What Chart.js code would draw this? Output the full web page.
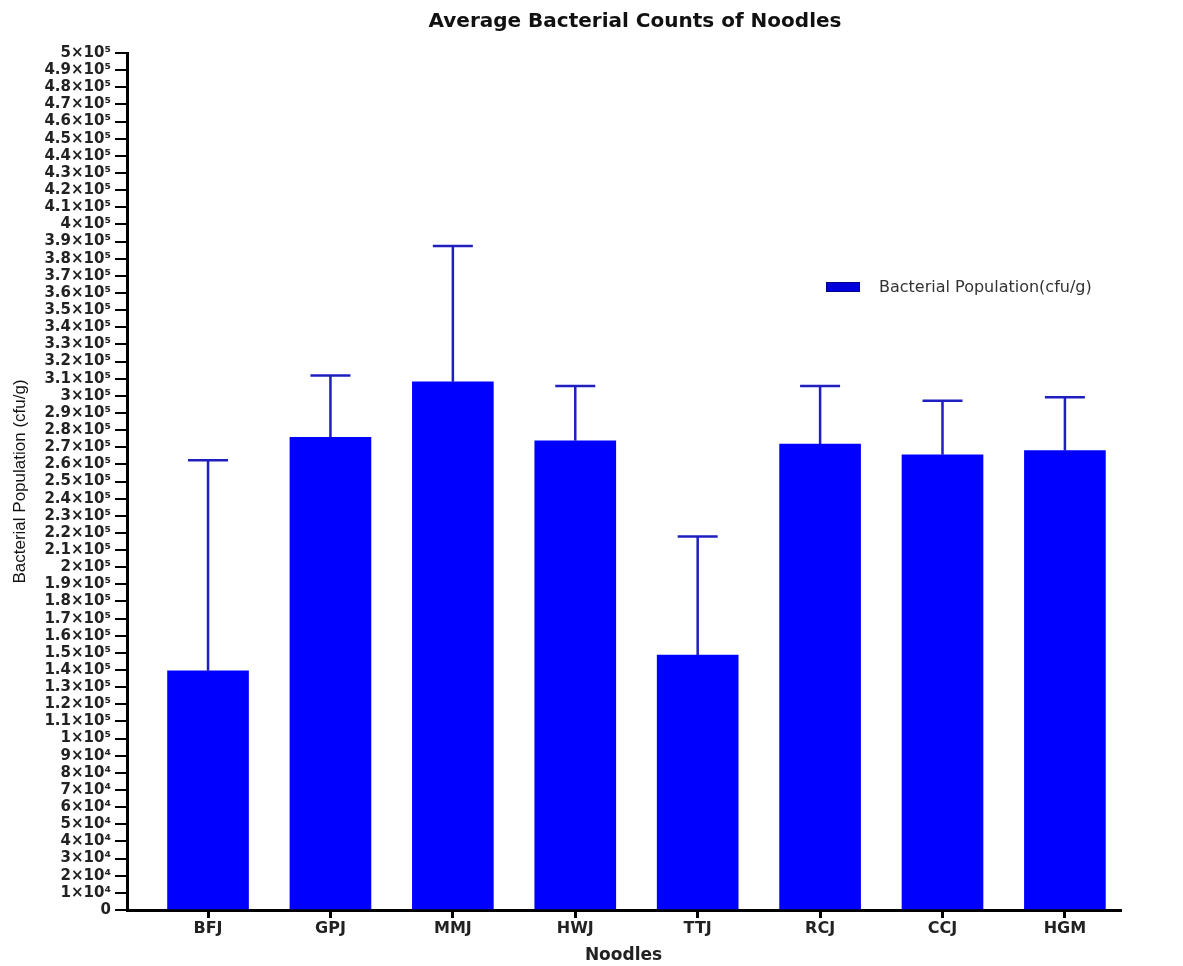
<!DOCTYPE html>
<html>
<head>
<meta charset="utf-8">
<script src="https://cdn.jsdelivr.net/npm/chart.js@4.4.0/dist/chart.umd.min.js"></script>
<style>
  html, body { margin: 0; padding: 0; background: #fff; }
  #wrap { width: 1183px; height: 966px; position: relative; }
</style>
</head>
<body>
<div id="wrap"><canvas id="c"></canvas></div>
<script>
// ---- data ----
const categories = ['BFJ', 'GPJ', 'MMJ', 'HWJ', 'TTJ', 'RCJ', 'CCJ', 'HGM'];
const meanCounts = [139600, 275800, 308200, 273800, 148800, 271900, 265600, 268000];
const errorSD   = [122800, 36100, 79200, 31900, 69100, 33800, 31500, 31100];
const seriesLabel = 'Bacterial Population(cfu/g)';
const chartTitle = 'Average Bacterial Counts of Noodles';
const xTitle = 'Noodles';
const yTitle = 'Bacterial Population (cfu/g)';
const yMin = 0, yMax = 500000, yStep = 10000;

function formatYTick(v) {
  if (v === 0) return '0';
  if (v < 100000) return Math.round(v / 10000) + '×10⁴';
  return (Math.round(v / 10000) / 10) + '×10⁵';
}

const errorBarPlugin = {
  id: 'errorBars',
  afterDatasetsDraw(chart) {
    const ctx = chart.ctx;
    const xs = chart.scales.x, ys = chart.scales.y;
    ctx.save();
    ctx.strokeStyle = '#1f1fbf';
    ctx.lineWidth = 2.5;
    meanCounts.forEach((m, i) => {
      const x = xs.getPixelForValue(i);
      const y0 = ys.getPixelForValue(m);
      const y1 = ys.getPixelForValue(m + errorSD[i]);
      ctx.beginPath();
      ctx.moveTo(x, y0);
      ctx.lineTo(x, y1);
      ctx.moveTo(x - 20, y1);
      ctx.lineTo(x + 20, y1);
      ctx.stroke();
    });
    ctx.restore();
  }
};

const decorPlugin = {
  id: 'decor',
  afterDraw(chart) {
    const ctx = chart.ctx;
    ctx.save();
    // title
    ctx.font = 'bold 20px "DejaVu Sans"';
    ctx.fillStyle = '#111';
    ctx.textAlign = 'center';
    ctx.textBaseline = 'middle';
    ctx.fillText(chartTitle, 635, 22);
    // legend
    ctx.fillStyle = '#0000dd';
    ctx.fillRect(826, 282, 34, 10);
    ctx.strokeStyle = '#00008b';
    ctx.lineWidth = 1;
    ctx.strokeRect(826.5, 282.5, 33, 9);
    ctx.font = '16px "DejaVu Sans"';
    ctx.fillStyle = '#333';
    ctx.textAlign = 'left';
    ctx.fillText(seriesLabel, 879, 288);
    ctx.restore();
  }
};

new Chart(document.getElementById('c'), {
  type: 'bar',
  data: {
    datasets: [{
      label: seriesLabel,
      data: categories.map((c, i) => ({ x: i, y: meanCounts[i] })),
      backgroundColor: '#0000ff',
      borderWidth: 0,
      barThickness: 81
    }]
  },
  options: {
    responsive: true,
    maintainAspectRatio: false,
    animation: false,
    layout: { padding: { left: 10, top: 53, right: 63, bottom: 0 } },
    plugins: {
      legend: { display: false },
      title: { display: false },
      tooltip: { enabled: false }
    },
    scales: {
      x: {
        type: 'linear',
        offset: false,
        min: -0.662,
        max: 7.45,
        afterBuildTicks(scale) { scale.ticks = categories.map((c, i) => ({ value: i })); },
        afterFit(scale) { scale.height = 56; },
        ticks: {
          autoSkip: false,
          maxRotation: 0,
          padding: 1,
          color: '#222',
          font: { family: 'DejaVu Sans', weight: 'bold', size: 16 },
          callback: (v) => categories[v]
        },
        grid: { display: true, offset: false, drawOnChartArea: false, drawTicks: true, tickLength: 8, lineWidth: 3, color: '#000' },
        border: { display: true, width: 3, color: '#000' },
        title: {
          display: true, text: xTitle, color: '#222',
          font: { family: 'DejaVu Sans', weight: 'bold', size: 17 },
          padding: { top: 0, bottom: 0 }
        }
      },
      y: {
        min: yMin,
        max: yMax,
        afterFit(scale) { scale.width = 117; },
        ticks: {
          stepSize: yStep,
          autoSkip: false,
          padding: 4,
          color: '#222',
          font: { family: 'DejaVu Sans', weight: 'bold', size: 15 },
          callback: (v) => formatYTick(v)
        },
        grid: { display: true, drawOnChartArea: false, drawTicks: true, tickLength: 12, lineWidth: 2, color: '#000' },
        border: { display: true, width: 3, color: '#000' },
        title: {
          display: true, text: yTitle, color: '#111',
          font: { family: 'Liberation Sans', size: 17 },
          padding: { top: 0, bottom: 0 }
        }
      }
    }
  },
  plugins: [errorBarPlugin, decorPlugin]
});
</script>
</body>
</html>
